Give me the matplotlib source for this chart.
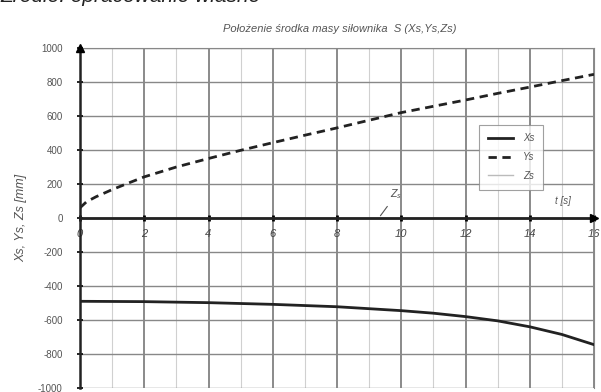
import numpy as np
import matplotlib
matplotlib.use('Agg')
from matplotlib import pyplot as plt

plt.rcParams['font.family'] = ['Liberation Sans', 'DejaVu Sans']

# time [s]
t_y = [0, 0.2, 0.5, 1, 1.5, 2, 3, 4, 5, 6, 7, 8, 9, 10, 11, 12, 13, 14, 15, 16]
ys = [60, 95, 125, 167, 205, 242, 300, 350, 398, 443, 487, 530, 575, 620, 657, 694, 733, 770, 808, 845]

t_x = [0, 2, 4, 6, 8, 10, 11, 12, 13, 14, 15, 16]
xs = [-490, -492, -498, -508, -522, -545, -560, -580, -605, -640, -685, -745]

t_z = [0, 16]
zs = [0, 0]

x_ticks = [0, 2, 4, 6, 8, 10, 12, 14, 16]
y_ticks = [1000, 800, 600, 400, 200, 0, -200, -400, -600, -800, -1000]

gray = '#555555'

fig = plt.figure(figsize=(6.01, 3.92), dpi=100)
ax = fig.add_axes([80 / 601, 4 / 392, 514 / 601, 340 / 392])

# grid
for x in range(0, 17):
    if x % 2 == 0:
        ax.axvline(x, color='#777777', lw=1.2, zorder=1)
    else:
        ax.axvline(x, color='#d0d0d0', lw=0.8, zorder=1)
for y in y_ticks:
    ax.axhline(y, color='#888888', lw=1.0, zorder=1)

ax.plot(t_z, zs, color='#bbbbbb', lw=1, label='Zs', zorder=2)
ax.plot(t_x, xs, color='#222222', lw=2, label='Xs', zorder=3)
ax.plot(t_y, ys, color='#222222', lw=2, ls=(0, (3, 2)), label='Ys', zorder=3)

ax.spines['bottom'].set_position(('data', 0))
ax.spines['bottom'].set_linewidth(2)
ax.spines['bottom'].set_color('#222222')
ax.spines['left'].set_linewidth(1.8)
ax.spines['left'].set_color('#222222')
ax.spines['top'].set_color('#888888')
ax.spines['right'].set_color('#888888')

ax.set_xlim(0, 16)
ax.set_ylim(-1000, 1000)
ax.set_xticks(x_ticks)
ax.set_yticks(y_ticks)
ax.set_xticklabels([str(v) for v in x_ticks], style='italic', fontsize=8, color='#444444')
ax.set_yticklabels([str(v) for v in y_ticks], fontsize=7, color=gray)
ax.tick_params(axis='x', direction='inout', length=4, width=2, pad=6)
ax.tick_params(axis='y', direction='inout', length=5, width=1.2, pad=10)

# arrows on axes
ax.plot([16], [0], marker='>', color='black', ms=6, clip_on=False, zorder=5)
ax.plot([0], [1000], marker='^', color='black', ms=6, clip_on=False, zorder=5)

ax.text(14.8, 80, 't [s]', fontsize=7, style='italic', color=gray)
ax.annotate(r'$Z_s$', xy=(9.3, 0), xytext=(9.65, 120), fontsize=7, color=gray,
            arrowprops=dict(arrowstyle='-', color='#555555', lw=0.8))

handles, labels = ax.get_legend_handles_labels()
order = [1, 2, 0]
leg = ax.legend([handles[i] for i in order], [labels[i] for i in order],
                loc='upper left', bbox_to_anchor=(0.777, 0.775),
                frameon=True, fancybox=False, handlelength=2.6, handletextpad=1.0,
                labelspacing=0.9, borderpad=0.9, borderaxespad=0,
                prop={'style': 'italic', 'size': 7}, labelcolor=gray)
leg.get_frame().set_edgecolor('#888888')
leg.get_frame().set_linewidth(0.8)

ax.set_ylabel('Xs, Ys, Zs [mm]', fontsize=9, style='italic', color=gray, labelpad=8)

fig.text(340 / 601, 1 - 29 / 392, 'Położenie środka masy siłownika  S (Xs,Ys,Zs)',
         fontsize=8, style='italic', color=gray, ha='center', va='center')
fig.text(0.0, 1.012, 'Źródło: opracowanie własne', fontsize=15, style='italic',
         color='#222222', ha='left', va='center')

fig.savefig('out.png', dpi=100)
